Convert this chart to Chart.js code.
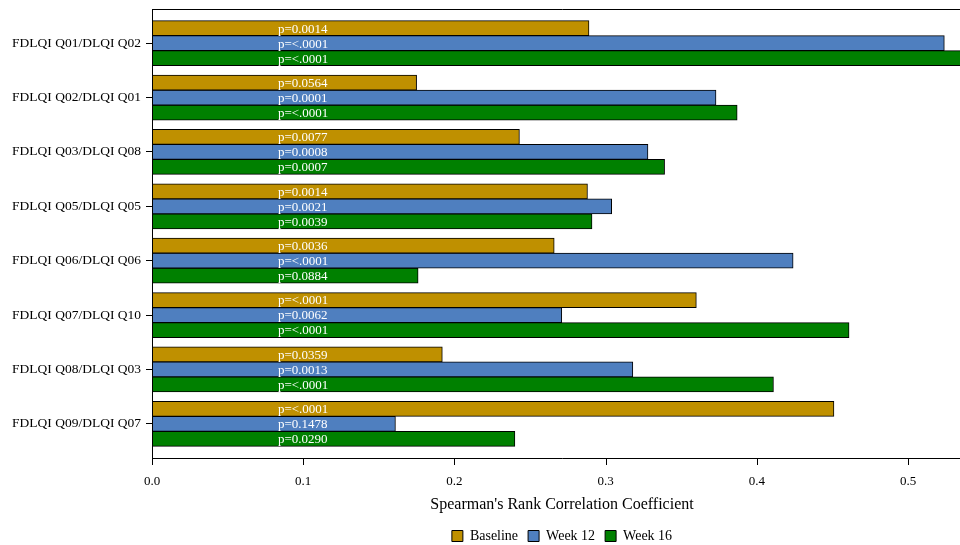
<!DOCTYPE html>
<html>
<head>
<meta charset="utf-8">
<script src="https://cdn.jsdelivr.net/npm/chart.js@4"></script>
<style>
html, body { margin: 0; padding: 0; background: #fff; overflow: hidden; }
/* a bit wider than the window: the plot runs past the right edge, as in the reference */
#wrap { width: 972px; height: 545px; }
</style>
</head>
<body>
<div id="wrap"><canvas id="chart"></canvas></div>
<script>
var categories = ['FDLQI Q01/DLQI Q02', 'FDLQI Q02/DLQI Q01', 'FDLQI Q03/DLQI Q08', 'FDLQI Q05/DLQI Q05',
                  'FDLQI Q06/DLQI Q06', 'FDLQI Q07/DLQI Q10', 'FDLQI Q08/DLQI Q03', 'FDLQI Q09/DLQI Q07'];
var baseline = [0.289, 0.175, 0.243, 0.288, 0.266, 0.360, 0.192, 0.451];
var week12   = [0.524, 0.373, 0.328, 0.304, 0.424, 0.271, 0.318, 0.161];
var week16   = [0.540, 0.387, 0.339, 0.291, 0.176, 0.461, 0.411, 0.240];
var pBaseline = ['p=0.0014', 'p=0.0564', 'p=0.0077', 'p=0.0014', 'p=0.0036', 'p=<.0001', 'p=0.0359', 'p=<.0001'];
var pWeek12   = ['p=<.0001', 'p=0.0001', 'p=0.0008', 'p=0.0021', 'p=<.0001', 'p=0.0062', 'p=0.0013', 'p=0.1478'];
var pWeek16   = ['p=<.0001', 'p=<.0001', 'p=0.0007', 'p=0.0039', 'p=0.0884', 'p=<.0001', 'p=<.0001', 'p=0.0290'];
var xTicks = [0, 0.1, 0.2, 0.3, 0.4, 0.5];
var xMax = 0.5423;
var pLabelAt = 0.0833;

var serif = 'Liberation Serif';

// frame lines, x tick marks and the p-value labels
var extras = {
    id: 'extras',
    afterDatasetsDraw: function(chart){
        var a = chart.chartArea, ctx = chart.ctx, xs = chart.scales.x;
        var top = a.top - 7, bottom = a.bottom + 7;
        ctx.save();
        ctx.strokeStyle = '#000';
        ctx.lineWidth = 1;
        ctx.beginPath();
        ctx.moveTo(a.left + 0.5, top + 0.5);
        ctx.lineTo(a.right, top + 0.5);
        ctx.moveTo(a.left + 0.5, top);
        ctx.lineTo(a.left + 0.5, bottom + 0.5);
        ctx.lineTo(a.right, bottom + 0.5);
        xTicks.forEach(function(v){
            var px = Math.round(xs.getPixelForValue(v)) + 0.5;
            ctx.moveTo(px, bottom);
            ctx.lineTo(px, bottom + 7);
        });
        ctx.stroke();

        ctx.fillStyle = '#fff';
        ctx.font = '13px "' + serif + '"';
        ctx.textAlign = 'left';
        ctx.textBaseline = 'middle';
        var lx = xs.getPixelForValue(pLabelAt);
        chart.data.datasets.forEach(function(ds, i){
            chart.getDatasetMeta(i).data.forEach(function(bar, j){
                ctx.fillText(ds.pvals[j], lx, bar.y + 1);
            });
        });
        ctx.restore();
    }
};

new Chart(document.getElementById('chart'), {
    type: 'bar',
    data: {
        labels: categories,
        datasets: [
            { label: 'Baseline', data: baseline, pvals: pBaseline, backgroundColor: '#bf9000', borderColor: '#000', borderWidth: 1, borderSkipped: false, barThickness: 15 },
            { label: 'Week 12', data: week12, pvals: pWeek12, backgroundColor: '#4f7fbf', borderColor: '#000', borderWidth: 1, borderSkipped: false, barThickness: 15 },
            { label: 'Week 16', data: week16, pvals: pWeek16, backgroundColor: '#008000', borderColor: '#000', borderWidth: 1, borderSkipped: false, barThickness: 15 }
        ]
    },
    options: {
        indexAxis: 'y',
        responsive: true,
        maintainAspectRatio: false,
        animation: false,
        layout: { padding: { top: 16, right: 0, bottom: -8, left: 0 } },
        plugins: {
            legend: {
                position: 'bottom',
                fullSize: false,
                labels: {
                    color: '#000',
                    font: { family: serif, size: 14 },
                    boxWidth: 11,
                    boxHeight: 11,
                    padding: 10
                }
            },
            tooltip: { enabled: false }
        },
        scales: {
            x: {
                min: 0,
                max: xMax,
                afterBuildTicks: function(scale){
                    scale.ticks = xTicks.map(function(v){ return { value: v }; });
                },
                afterFit: function(scale){ scale.height = 68; },
                grid: { display: false, drawTicks: false },
                border: { display: false },
                ticks: {
                    color: '#000',
                    font: { family: serif, size: 13 },
                    padding: 23,
                    maxRotation: 0,
                    callback: function(v){ return Number(v).toFixed(1); }
                },
                title: {
                    display: true,
                    text: "Spearman's Rank Correlation Coefficient",
                    color: '#000',
                    font: { family: serif, size: 16 },
                    padding: { top: 6, bottom: 5 }
                }
            },
            y: {
                afterFit: function(scale){ scale.width = 152; },
                grid: { offset: false, drawOnChartArea: false, drawTicks: true, tickLength: 6, color: '#000' },
                border: { display: false },
                ticks: {
                    color: '#000',
                    font: { family: serif, size: 13.5 },
                    padding: 5
                }
            }
        }
    },
    plugins: [extras]
});
</script>
</body>
</html>
